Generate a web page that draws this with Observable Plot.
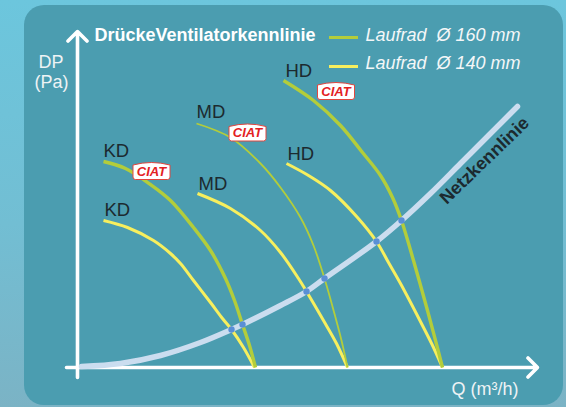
<!DOCTYPE html>
<html>
<head>
<meta charset="utf-8">
<script src="https://cdn.jsdelivr.net/npm/d3@7"></script>
<script src="https://cdn.jsdelivr.net/npm/@observablehq/plot@0.6"></script>
<style>
html, body { margin: 0; padding: 0; }
body {
  width: 566px; height: 407px; overflow: hidden; position: relative;
  background: linear-gradient(180deg, #6cc6dd 0%, #72bed3 55%, #7bb3c5 100%);
  font-family: "Liberation Sans", Arial, sans-serif;
}
#panel {
  position: absolute; left: 24px; top: 5px; width: 539px; height: 400px;
  border-radius: 20px; background: #4b9db0;
}
#chart { position: absolute; left: 0; top: 0; }
</style>
</head>
<body>
<div id="panel"></div>
<div id="chart"></div>
<script>
// ---- Data (Q in m³/h units, DP in Pa units) ----
const title = "DrückeVentilatorkennlinie";
const legendLabels = ["Laufrad\u00a0 Ø 160 mm", "Laufrad\u00a0 Ø 140 mm"];
const speeds = ["KD", "MD", "HD"];

// Impeller Ø 160 mm
const fan160KD = [[26,206],[48,199],[73,183],[93,167],[116,140],[133,117],[148,89],[157,67],[165,43],[172,22],[178,0]];
const fan160MD = [[119,244],[153,230],[183,204],[203,180],[223,150],[236,122],[247,89],[258,50],[264,27],[270,0]];
const fan160HD = [[206,287],[236,267],[263,242],[285,215],[303,192],[315,170],[324,147],[336,107],[350,57],[358,27],[365,0]];
// Impeller Ø 140 mm
const fan140KD = [[26,147],[50,140],[76,127],[93,114],[103,104],[116,87],[133,65],[145,49],[154,38],[166,20],[177,0]];
const fan140MD = [[120,174],[153,159],[183,137],[203,115],[221,89],[229,76],[246,47],[259,24],[270,0]];
const fan140HD = [[209,204],[231,192],[253,177],[280,150],[299,126],[311,105],[323,84],[346,40],[356,20],[365,0]];
// System curve (Netzkennlinie)
const netz = [[4,1],[43,4],[83,12],[123,25],[154,38],[165,43],[203,62],[229,76],[247,89],[299,126],[324,147],[353,174],[383,204],[413,234],[440,261]];
// Operating points (intersections)
const operatingPoints = [[154,38],[165,43],[229,76],[247,89],[299,126],[324,147]];

// Curve start labels
const labelText = ["KD", "MD", "HD", "KD", "MD", "HD"];
const labelQ    = [26, 119, 208, 27, 121, 210];
const labelDP   = [211, 250, 291, 152, 178, 208];
// CIAT logo positions (on the Ø 160 mm curves)
const logoQ  = [74, 170, 258.5];
const logoDP = [196.5, 235, 276.5];

// ---- Build tables ----
const rows = (pts, size, speed) => pts.map(([q, dp]) => ({q, dp, size, speed, id: size + speed}));
const green = "#b3cd3b", yellow = "#f7ef5e", netzColor = "#cbddef", dark = "#1c2a2f";
const thick160 = [...rows(fan160KD, "160", "KD"), ...rows(fan160HD, "160", "HD")];
const thin160 = rows(fan160MD, "160", "MD");
const all140 = [...rows(fan140KD, "140", "KD"), ...rows(fan140MD, "140", "MD"), ...rows(fan140HD, "140", "HD")];
const netzRows = netz.map(([q, dp]) => ({q, dp}));
const opRows = operatingPoints.map(([q, dp]) => ({q, dp}));
const labelRows = labelText.map((t, i) => ({t, q: labelQ[i], dp: labelDP[i]}));
const logoRows = logoQ.map((q, i) => ({q, dp: logoDP[i]}));

const Q_MAX = 460, DP_MAX = 336;

const ciatSymbol = {
  draw(ctx) {
    const w = 18.5, h = 8.5, r = 2.5;
    ctx.moveTo(-w, -h + 2.5);
    ctx.quadraticCurveTo(0, -h - 2.5, w, -h + 2.5);
    ctx.lineTo(w, h - r);
    ctx.quadraticCurveTo(w, h, w - r, h);
    ctx.lineTo(-w + r, h);
    ctx.quadraticCurveTo(-w, h, -w, h - r);
    ctx.closePath();
  }
};

const chart = Plot.plot({
  width: 566,
  height: 407,
  margin: 0,
  x: {domain: [0, Q_MAX], range: [77, 537], axis: null},
  y: {domain: [0, DP_MAX], range: [367, 31], axis: null},
  style: {background: "transparent", fontFamily: "'Liberation Sans', Arial, sans-serif", overflow: "visible"},
  marks: [
    // axes with arrows
    Plot.arrow([{x1: -11, y1: 0, x2: Q_MAX, y2: 0}], {x1: "x1", y1: "y1", x2: "x2", y2: "y2", stroke: "white", strokeWidth: 3.6, headLength: 5.6, headAngle: 90}),
    Plot.arrow([{x1: 0, y1: -10, x2: 0, y2: DP_MAX}], {x1: "x1", y1: "y1", x2: "x2", y2: "y2", stroke: "white", strokeWidth: 3.6, headLength: 5.6, headAngle: 90}),
    // fan curves
    Plot.line(all140, {x: "q", y: "dp", z: "id", stroke: yellow, strokeWidth: 3, curve: "catmull-rom", strokeLinecap: "butt"}),
    Plot.line(thick160, {x: "q", y: "dp", z: "id", stroke: green, strokeWidth: 3.4, curve: "catmull-rom", strokeLinecap: "butt"}),
    Plot.line(thin160, {x: "q", y: "dp", z: "id", stroke: green, strokeWidth: 1.8, curve: "catmull-rom", strokeLinecap: "butt"}),
    // system curve
    Plot.line(netzRows, {x: "q", y: "dp", stroke: netzColor, strokeWidth: 5.5, curve: "catmull-rom", strokeLinecap: "round"}),
    Plot.dot(opRows, {x: "q", y: "dp", r: 3.2, fill: "#5a8fd6", stroke: "none"}),
    Plot.text([{q: 407, dp: 207, t: "Netzkennlinie"}], {x: "q", y: "dp", text: "t", rotate: -44, fontSize: 18, fontWeight: "bold", fill: dark, textAnchor: "middle", lineAnchor: "middle"}),
    // curve labels
    Plot.text(labelRows, {x: "q", y: "dp", text: "t", fontSize: 18.5, fill: dark, textAnchor: "start", lineAnchor: "bottom"}),
    // CIAT logos
    Plot.dot(logoRows, {x: "q", y: "dp", symbol: ciatSymbol, r: 10, fill: "white", stroke: "#e2463f", strokeWidth: 1}),
    Plot.text(logoRows, {x: "q", y: "dp", text: () => "CIAT", dy: 0.5, fontSize: 13, fontWeight: "bold", fontStyle: "italic", fill: "#e3211f", textAnchor: "middle", lineAnchor: "middle"}),
    // title and legend
    Plot.text([{q: 17, dp: 327, t: title}], {x: "q", y: "dp", text: "t", fontSize: 18, fontWeight: "bold", fill: "white", textAnchor: "start", lineAnchor: "bottom"}),
    Plot.ruleY([{dp: 330}], {y: "dp", x1: 252, x2: 281, stroke: green, strokeWidth: 3}),
    Plot.ruleY([{dp: 301}], {y: "dp", x1: 252, x2: 281, stroke: yellow, strokeWidth: 3}),
    Plot.text([{q: 288, dp: 327, t: legendLabels[0]}, {q: 288, dp: 299, t: legendLabels[1]}], {x: "q", y: "dp", text: "t", fontSize: 18, fontStyle: "italic", fill: "#f4f7f8", textAnchor: "start", lineAnchor: "bottom"}),
    // axis titles
    Plot.text([{q: -26.5, dp: 300, t: "DP"}, {q: -26, dp: 280, t: "(Pa)"}], {x: "q", y: "dp", text: "t", fontSize: 18, fill: "#eef3f5", textAnchor: "middle", lineAnchor: "bottom"}),
    Plot.text([{q: 441, dp: -27, t: "Q (m³/h)"}], {x: "q", y: "dp", text: "t", fontSize: 18, fill: "#eef3f5", textAnchor: "end", lineAnchor: "bottom"})
  ]
});
document.getElementById("chart").appendChild(chart);
</script>
</body>
</html>
